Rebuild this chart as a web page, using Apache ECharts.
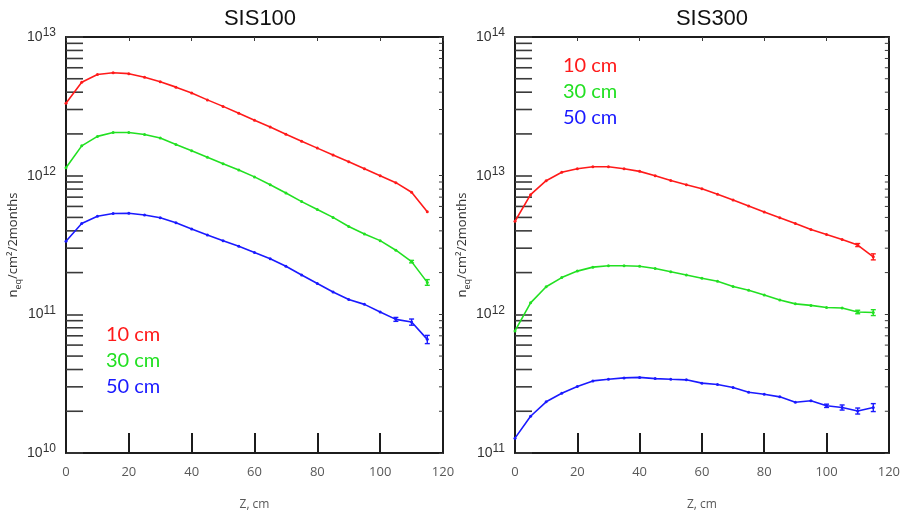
<!DOCTYPE html>
<html>
<head>
<meta charset="utf-8">
<script src="https://cdn.jsdelivr.net/npm/echarts@6/dist/echarts.min.js"></script>
<style>
  html, body { margin: 0; padding: 0; background: #ffffff; }
  #chart { width: 903px; height: 516px; }
</style>
</head>
<body>
<div id="chart"></div>
<script>
// Position along the beam axis, cm
const zPositions = [0, 5, 10, 15, 20, 25, 30, 35, 40, 45, 50, 55, 60, 65, 70, 75, 80, 85, 90, 95, 100, 105, 110, 115];

const panelTitles = ['SIS100', 'SIS300'];
const depthLabels = ['10 cm', '30 cm', '50 cm'];
const depthColors = ['#ff1a1a', '#22e022', '#1a1aff'];

// SIS100: 1 MeV neutron-equivalent fluence, n_eq/cm^2 per 2 months
const sis100_10cm = [3.33e12, 4.72e12, 5.36e12, 5.53e12, 5.44e12, 5.13e12, 4.76e12, 4.35e12, 3.94e12, 3.52e12, 3.16e12, 2.82e12,
                     2.51e12, 2.24e12, 1.99e12, 1.77e12, 1.58e12, 1.41e12, 1.26e12, 1.12e12, 1.00e12, 8.9e11, 7.6e11, 5.5e11];
const sis100_30cm = [1.14e12, 1.64e12, 1.92e12, 2.05e12, 2.05e12, 1.98e12, 1.87e12, 1.68e12, 1.51e12, 1.36e12, 1.22e12, 1.10e12,
                     9.8e11, 8.6e11, 7.5e11, 6.5e11, 5.7e11, 5.0e11, 4.3e11, 3.8e11, 3.4e11, 2.9e11, 2.4e11, 1.7e11];
const sis100_50cm = [3.37e11, 4.52e11, 5.09e11, 5.33e11, 5.36e11, 5.21e11, 4.97e11, 4.57e11, 4.12e11, 3.73e11, 3.40e11, 3.10e11,
                     2.79e11, 2.52e11, 2.22e11, 1.92e11, 1.67e11, 1.45e11, 1.28e11, 1.18e11, 1.04e11, 9.2e10, 8.8e10, 6.6e10];

// SIS300
const sis300_10cm = [4.69e12, 7.29e12, 9.20e12, 1.057e13, 1.122e13, 1.161e13, 1.161e13, 1.122e13, 1.074e13, 9.98e12, 9.23e12, 8.61e12,
                     8.04e12, 7.35e12, 6.68e12, 6.04e12, 5.47e12, 4.98e12, 4.52e12, 4.09e12, 3.77e12, 3.47e12, 3.16e12, 2.60e12];
const sis300_30cm = [7.59e11, 1.21e12, 1.58e12, 1.84e12, 2.05e12, 2.19e12, 2.24e12, 2.24e12, 2.22e12, 2.14e12, 2.03e12, 1.92e12,
                     1.82e12, 1.73e12, 1.59e12, 1.49e12, 1.38e12, 1.27e12, 1.19e12, 1.16e12, 1.12e12, 1.11e12, 1.04e12, 1.03e12];
const sis300_50cm = [1.28e11, 1.84e11, 2.34e11, 2.70e11, 3.02e11, 3.31e11, 3.40e11, 3.48e11, 3.51e11, 3.44e11, 3.40e11, 3.37e11,
                     3.19e11, 3.12e11, 2.97e11, 2.74e11, 2.65e11, 2.54e11, 2.32e11, 2.38e11, 2.19e11, 2.13e11, 2.01e11, 2.13e11];

// Statistical uncertainties where they are visible (z positions and absolute errors)
const sis100_30cm_errZ = [110, 115];
const sis100_30cm_err  = [0.05e11, 0.08e11];
const sis100_50cm_errZ = [105, 110, 115];
const sis100_50cm_err  = [0.3e10, 0.45e10, 0.45e10];
const sis300_10cm_errZ = [110, 115];
const sis300_10cm_err  = [0.08e12, 0.13e12];
const sis300_30cm_errZ = [110, 115];
const sis300_30cm_err  = [0.03e12, 0.05e12];
const sis300_50cm_errZ = [100, 105, 110, 115];
const sis300_50cm_err  = [0.06e11, 0.09e11, 0.10e11, 0.14e11];

// Axis ranges (decades)
const sis100Decades = [10, 13];
const sis300Decades = [11, 14];
const zRange = [0, 120];

const panels = [
  { title: panelTitles[0], decades: sis100Decades, series: [sis100_10cm, sis100_30cm, sis100_50cm],
    errZ: [[], sis100_30cm_errZ, sis100_50cm_errZ], err: [[], sis100_30cm_err, sis100_50cm_err] },
  { title: panelTitles[1], decades: sis300Decades, series: [sis300_10cm, sis300_30cm, sis300_50cm],
    errZ: [sis300_10cm_errZ, sis300_30cm_errZ, sis300_50cm_errZ], err: [sis300_10cm_err, sis300_30cm_err, sis300_50cm_err] }
];

// Layout
const grids = [
  { left: 66, top: 37, width: 377, height: 417 },
  { left: 515, top: 37, width: 378, height: 417 }
];
const titlePos = [[260, 19], [712, 19]];
const keyPos = [[106, 335], [563, 66]];
const keyPitch = 26;

const AXIS_COLOR = '#1c1c1c';
const TICK_COLOR = '#3a3a3a';

function minorTickValues(decades) {
  const out = [];
  for (let e = decades[0]; e < decades[1]; e++) {
    for (let m = 2; m <= 9; m++) out.push(m * Math.pow(10, e));
  }
  return out;
}

function tickSeries(gridIdx, xVal, len, values) {
  return {
    type: 'custom', silent: true, xAxisIndex: gridIdx * 2, yAxisIndex: gridIdx * 2,
    data: values.map(v => [xVal, v]),
    encode: { x: 0, y: 1 },
    renderItem: function (params, api) {
      const p = api.coord([api.value(0), api.value(1)]);
      const dir = api.value(0) === zRange[0] ? 1 : -1;
      return { type: 'line', shape: { x1: p[0], y1: p[1], x2: p[0] + dir * len, y2: p[1] },
               style: { stroke: TICK_COLOR, lineWidth: len > 6 ? 1.6 : 1 } };
    },
    z: 3
  };
}

function errorSeries(gridIdx, color, zs, errs, values) {
  const data = zs.map((z, i) => [z, values[zPositions.indexOf(z)], errs[i]]);
  return {
    type: 'custom', silent: true, xAxisIndex: gridIdx * 2, yAxisIndex: gridIdx * 2,
    data: data, encode: { x: 0, y: 1 },
    renderItem: function (params, api) {
      const z = api.value(0), v = api.value(1), e = api.value(2);
      const hi = api.coord([z, v + e]);
      const lo = api.coord([z, v - e]);
      const cap = 2.5;
      const st = { stroke: color, lineWidth: 1.4 };
      return { type: 'group', children: [
        { type: 'line', shape: { x1: hi[0], y1: hi[1], x2: lo[0], y2: lo[1] }, style: st },
        { type: 'line', shape: { x1: hi[0] - cap, y1: hi[1], x2: hi[0] + cap, y2: hi[1] }, style: st },
        { type: 'line', shape: { x1: lo[0] - cap, y1: lo[1], x2: lo[0] + cap, y2: lo[1] }, style: st }
      ] };
    },
    z: 4
  };
}

const xAxes = [], yAxes = [], series = [], graphics = [];

panels.forEach((panel, g) => {
  xAxes.push({
    gridIndex: g, type: 'value', min: zRange[0], max: zRange[1], interval: 20, position: 'bottom',
    axisLine: { show: true, onZero: false, lineStyle: { color: AXIS_COLOR, width: 2 } },
    axisTick: { show: true, inside: true, length: 20, lineStyle: { color: AXIS_COLOR, width: 2 } },
    axisLabel: { margin: 13, color: '#595959', fontFamily: 'Open Sans', fontSize: 13 },
    splitLine: { show: false },
    name: 'Z, cm', nameLocation: 'middle', nameGap: 46,
    nameTextStyle: { color: '#595959', fontFamily: 'Open Sans', fontSize: 12 }
  });
  xAxes.push({
    gridIndex: g, type: 'value', min: zRange[0], max: zRange[1], interval: 20, position: 'top',
    axisLine: { show: true, onZero: false, lineStyle: { color: AXIS_COLOR, width: 2 } },
    axisTick: { show: true, inside: true, length: 4, lineStyle: { color: TICK_COLOR, width: 1 } },
    axisLabel: { show: false }, splitLine: { show: false }
  });
  const yMin = Math.pow(10, panel.decades[0]);
  const yMax = Math.pow(10, panel.decades[1]);
  yAxes.push({
    gridIndex: g, type: 'log', logBase: 10, min: yMin, max: yMax, position: 'left',
    axisLine: { show: true, onZero: false, lineStyle: { color: AXIS_COLOR, width: 2 } },
    axisTick: { show: true, inside: true, length: 17, lineStyle: { color: TICK_COLOR, width: 1.6 } },
    axisLabel: {
      margin: 10,
      formatter: v => '{b|10}{s|' + Math.round(Math.log10(v)) + '}',
      rich: {
        b: { fontFamily: 'Liberation Sans', fontSize: 14, color: '#333', lineHeight: 20 },
        s: { fontFamily: 'Liberation Sans', fontSize: 12, color: '#333', lineHeight: 12, verticalAlign: 'top' }
      }
    },
    splitLine: { show: false },
    name: '{b|n}{u|eq}{b|/cm²/2months}', nameLocation: 'middle', nameRotate: 90, nameGap: 43,
    nameTextStyle: {
      rich: {
        b: { fontFamily: 'Open Sans', fontSize: 13, color: '#333', lineHeight: 20 },
        u: { fontFamily: 'Open Sans', fontSize: 9, color: '#333', lineHeight: 9, verticalAlign: 'bottom' }
      }
    }
  });
  yAxes.push({
    gridIndex: g, type: 'log', logBase: 10, min: yMin, max: yMax, position: 'right',
    axisLine: { show: true, onZero: false, lineStyle: { color: AXIS_COLOR, width: 2 } },
    axisTick: { show: true, inside: true, length: 4, lineStyle: { color: TICK_COLOR, width: 1 } },
    axisLabel: { show: false }, splitLine: { show: false }
  });

  panel.series.forEach((vals, k) => {
    series.push({
      type: 'line', name: depthLabels[k], xAxisIndex: g * 2, yAxisIndex: g * 2,
      data: zPositions.map((z, i) => [z, vals[i]]),
      symbol: 'circle', symbolSize: 3, showSymbol: true,
      lineStyle: { color: depthColors[k], width: 1.6 },
      itemStyle: { color: depthColors[k] },
      emphasis: { disabled: true }, z: 5
    });
    if (panel.errZ[k].length) {
      series.push(errorSeries(g, depthColors[k], panel.errZ[k], panel.err[k], vals));
    }
  });

  const minors = minorTickValues(panel.decades);
  series.push(tickSeries(g, zRange[0], 17, minors));
  series.push(tickSeries(g, zRange[1], 4, minors));

  graphics.push({
    type: 'text', x: titlePos[g][0], y: titlePos[g][1],
    style: { text: panel.title, fill: '#111', font: '22px "Liberation Sans"', align: 'center', verticalAlign: 'middle' }
  });
  depthLabels.forEach((lab, k) => {
    graphics.push({
      type: 'text', x: keyPos[g][0], y: keyPos[g][1] + k * keyPitch,
      style: { text: lab, fill: depthColors[k], font: '20px Lato', align: 'left', verticalAlign: 'middle' }
    });
  });
});

const chart = echarts.init(document.getElementById('chart'), null, { renderer: 'canvas' });
chart.setOption({
  animation: false,
  backgroundColor: '#ffffff',
  grid: grids,
  xAxis: xAxes,
  yAxis: yAxes,
  series: series,
  graphic: graphics
});
</script>
</body>
</html>
